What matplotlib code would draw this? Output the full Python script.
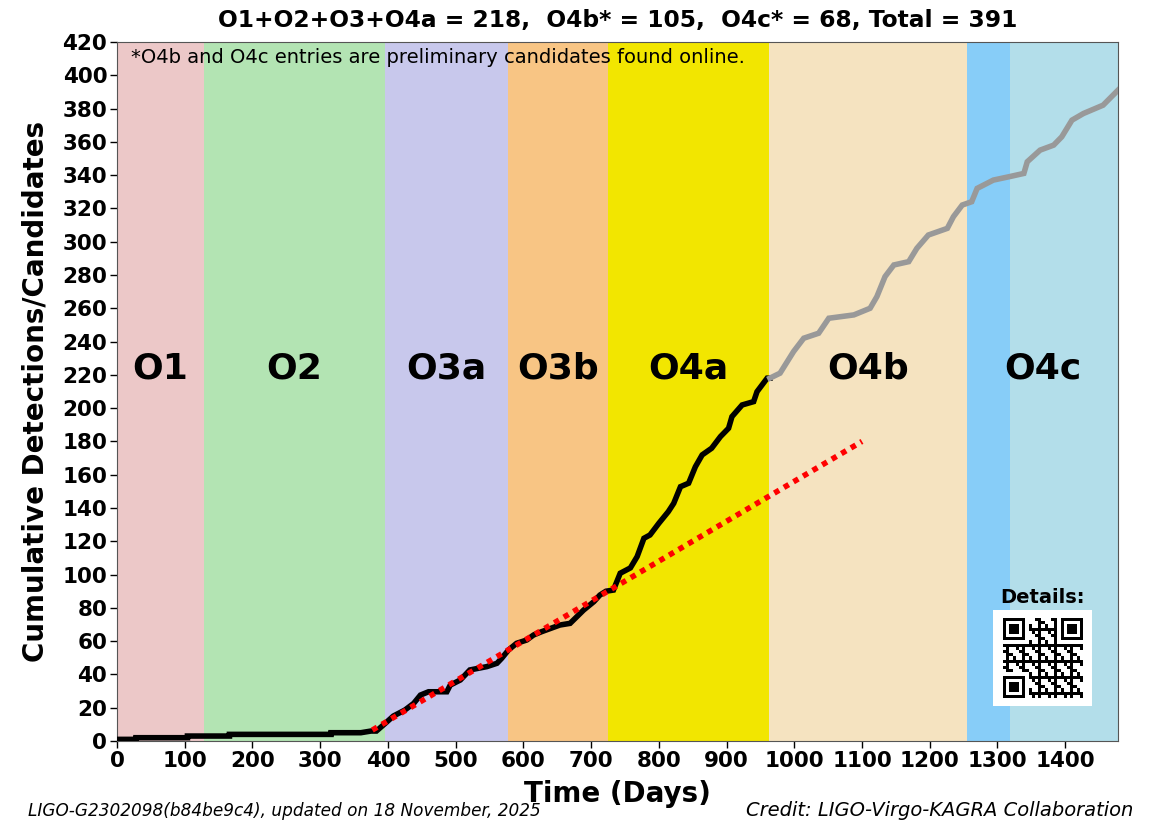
import numpy as np
import matplotlib
matplotlib.use("Agg")
import matplotlib.pyplot as plt
from matplotlib.patches import Rectangle

# ---------------- data ----------------
run_names = ["O1", "O2", "O3a", "O3b", "O4a", "O4b", "O4c"]
run_starts = [0, 128.5, 396, 577.5, 725, 963, 1255.5]
run_ends = [128.5, 396, 577.5, 725, 963, 1255.5, 1478]
run_colors = ["#ecc8c8", "#b3e4b3", "#c8c8ec", "#f8c584", "#f2e600", "#f5e3c0", "#b3deea"]
o4c_break_start = 1255.5
o4c_break_end = 1319
o4c_break_color = "#87cdf8"

# confirmed detections (O1..O4a)
conf_days = [0, 28, 28, 104, 104, 166, 166, 316, 316, 360, 375, 383, 396, 408, 425, 438,
             448, 460, 487, 492, 507, 521, 546, 561, 568, 578, 590, 605, 615, 627, 654,
             669, 679, 689, 704, 713, 722, 733, 743, 758, 768, 778, 787, 800, 814, 822,
             832, 844, 854, 864, 878, 891, 903, 908, 923, 940, 945, 960, 964]
conf_counts = [1, 1, 2, 2, 3, 3, 4, 4, 5, 5, 6, 6, 10.6, 15, 18.6, 22.6,
               27.6, 29.6, 29.6, 33.6, 36.7, 42.7, 44.7, 46.7, 49.7, 54.7, 58.7, 60.7, 63.7, 65.7, 69.7,
               70.7, 74.7, 78.7, 83.7, 87.7, 90, 90.7, 100.8, 104, 110.8, 121.8, 123.8, 130.8, 137.8, 142.8,
               152.8, 154.9, 164.8, 171.9, 175.9, 182.9, 187.9, 194.9, 201.9, 203.9, 209.9, 218, 218]

# preliminary candidates (O4b, O4c)
cand_days = [964, 979, 999, 1014, 1036, 1051, 1088, 1112, 1122, 1134, 1147, 1169, 1181,
             1198, 1226, 1235, 1248, 1262, 1270, 1294, 1317, 1339, 1344, 1363, 1383, 1395,
             1410, 1427, 1456, 1478]
cand_counts = [218, 221, 234, 242, 245, 254, 256, 260, 267, 279, 286, 288, 296,
               304, 308, 315, 322, 324, 332, 337, 339, 341, 348, 355, 358, 363,
               373, 377, 382, 391]

# O3-rate extrapolation line
trend_days = [377, 1100]
trend_counts = [6.6, 180]

title_text = "O1+O2+O3+O4a = 218,  O4b* = 105,  O4c* = 68, Total = 391"
note_text = "*O4b and O4c entries are preliminary candidates found online."
footer_left = "LIGO-G2302098(b84be9c4), updated on 18 November, 2025"
footer_right = "Credit: LIGO-Virgo-KAGRA Collaboration"

# ---------------- figure ----------------
fig = plt.figure(figsize=(11.54, 8.22), dpi=100)
ax = fig.add_axes([0.1014, 0.0985, 0.8674, 0.8505])

for name, s, e, c in zip(run_names, run_starts, run_ends, run_colors):
    ax.axvspan(s, e, color=c, lw=0, zorder=0)
ax.axvspan(o4c_break_start, o4c_break_end, color=o4c_break_color, lw=0, zorder=0)

for name, s, e in zip(run_names, run_starts, run_ends):
    ax.text((s + e) / 2, 224, name, ha="center", va="center",
            fontsize=26, fontweight="bold", color="black", zorder=5)

ax.plot(trend_days, trend_counts, color="red", lw=4, linestyle=(0, (1, 1)), zorder=4)
ax.plot(conf_days, conf_counts, color="black", lw=4, zorder=3, solid_joinstyle="miter")
ax.plot(cand_days, cand_counts, color="#999999", lw=4, zorder=3, solid_joinstyle="miter")

ax.set_xlim(0, 1478)
ax.set_ylim(0, 420)
ax.set_xticks(np.arange(0, 1401, 100))
ax.set_yticks(np.arange(0, 421, 20))
for lab in ax.get_xticklabels() + ax.get_yticklabels():
    lab.set_fontweight("bold")
    lab.set_fontsize(15.5)
ax.tick_params(axis="both", length=5, width=1, pad=2)
for sp in ax.spines.values():
    sp.set_color("#555555")

ax.set_xlabel("Time (Days)", fontsize=20, fontweight="bold", labelpad=7)
ax.set_ylabel("Cumulative Detections/Candidates", fontsize=20, fontweight="bold", labelpad=9)
ax.set_title(title_text, fontsize=16.8, fontweight="bold", pad=11)

ax.text(0.014, 0.992, note_text, transform=ax.transAxes, ha="left", va="top", fontsize=14, zorder=6)

fig.text(0.024, 0.002, footer_left, fontsize=12.2, style="italic", ha="left", va="bottom")
fig.text(0.982, 0.002, footer_right, fontsize=14, style="italic", ha="right", va="bottom")

# Details + QR-like badge
ax.text(1367, 80.5, "Details:", ha="center", va="bottom", fontsize=14, fontweight="bold", zorder=6)
ax.add_patch(Rectangle((1294, 21), 146, 57.5, facecolor="white", edgecolor="none", zorder=6))
n = 25
ii, jj = np.meshgrid(np.arange(n), np.arange(n), indexing="ij")
qr = (((ii * 7 + jj * 11 + ii * jj * 3) % 5) < 2).astype(float)
def finder(r, c):
    qr[r:r + 7, c:c + 7] = 1
    qr[r + 1:r + 6, c + 1:c + 6] = 0
    qr[r + 2:r + 5, c + 2:c + 5] = 1
    qr[max(r - 1, 0):r + 8, (c + 7) if c == 0 else c - 1] = 0
    qr[(r + 7) if r == 0 else r - 1, max(c - 1, 0):c + 8] = 0
finder(0, 0)
finder(0, n - 7)
finder(n - 7, 0)
qax = fig.add_axes([(1003 / 1154), 1 - 698 / 822, 80 / 1154, 80 / 822], zorder=7)
qax.imshow(1 - qr, cmap="gray", interpolation="nearest", vmin=0, vmax=1)
qax.axis("off")

fig.savefig("out.png", dpi=100)
